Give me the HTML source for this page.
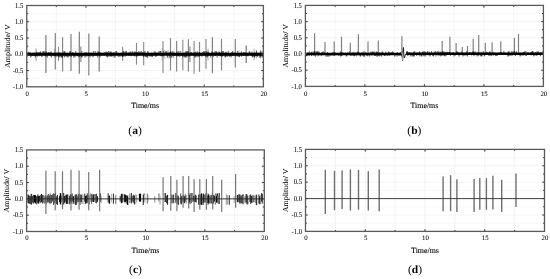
<!DOCTYPE html>
<html><head><meta charset="utf-8"><style>
html,body{margin:0;padding:0;background:#fff;}
body{width:550px;height:279px;overflow:hidden;}
svg{display:block;will-change:transform;}
text{font-family:"Liberation Serif", serif;fill:#000;stroke:#000;stroke-width:0.04px;}
.tm{stroke-width:0.1px;}
.cp{stroke-width:0;}
</style></head><body>
<svg width="550" height="279" viewBox="0 0 550 279">
<rect width="550" height="279" fill="#fff"/>
<path d="M56.33 5.5V86.8M85.91 5.5V86.8M115.49 5.5V86.8M145.07 5.5V86.8M174.66 5.5V86.8M204.24 5.5V86.8M233.82 5.5V86.8M26.75 21.76H263.4M26.75 38.02H263.4M26.75 54.28H263.4M26.75 70.54H263.4" stroke="#efefef" stroke-width="0.7" fill="none"/>
<path d="M26.75 13.63H263.4M26.75 29.89H263.4M26.75 46.15H263.4M26.75 62.41H263.4M26.75 78.67H263.4" stroke="#f5f5f5" stroke-width="0.7" fill="none"/>
<path d="M36.1 48.5V60.9" stroke="#999" stroke-width="1"/>
<path d="M45.9 35.1V72.9" stroke="#9a9a9a" stroke-width="1.6"/>
<path d="M54.4 48.7V58" stroke="#aaa" stroke-width="1"/>
<path d="M55.3 32.9V69.6" stroke="#808080" stroke-width="1.2"/>
<path d="M58.5 46.8V60.9" stroke="#888" stroke-width="1.1"/>
<path d="M62.6 37.3V71.5" stroke="#8a8a8a" stroke-width="1.2"/>
<path d="M71 34V70.9" stroke="#808080" stroke-width="1.2"/>
<path d="M79.3 31.8V73.8" stroke="#7a7a7a" stroke-width="1.2"/>
<path d="M80.7 46.5V62" stroke="#aaa" stroke-width="1.8"/>
<path d="M88.8 33.5V75.6" stroke="#8a8a8a" stroke-width="1.3"/>
<path d="M99.2 36.5V71.6" stroke="#7a7a7a" stroke-width="1.2"/>
<path d="M106.8 51V57" stroke="#aaa" stroke-width="1"/>
<path d="M122.6 46.8V60.9" stroke="#999" stroke-width="1.3"/>
<path d="M136.5 43V64.7" stroke="#888" stroke-width="1.1"/>
<path d="M143.6 42V65.3" stroke="#999" stroke-width="1.3"/>
<path d="M162.2 48.2V60.9" stroke="#aaa" stroke-width="1"/>
<path d="M163 41.1V72.9" stroke="#999" stroke-width="1.3"/>
<path d="M164.8 49.8V58.7" stroke="#aaa" stroke-width="1"/>
<path d="M168.1 49.8V58.7" stroke="#aaa" stroke-width="1"/>
<path d="M170.5 38V70.5" stroke="#888" stroke-width="1.2"/>
<path d="M176.6 41.1V71.6" stroke="#888" stroke-width="1.2"/>
<path d="M182.8 39.7V70.2" stroke="#999" stroke-width="1.3"/>
<path d="M188.4 39.2V71.6" stroke="#888" stroke-width="1.2"/>
<path d="M189.8 46.5V62" stroke="#aaa" stroke-width="1.8"/>
<path d="M194.1 40.9V73.8" stroke="#999" stroke-width="1.3"/>
<path d="M199.5 42V71.8" stroke="#888" stroke-width="1.2"/>
<path d="M206 39V68.8" stroke="#aaa" stroke-width="1.6"/>
<path d="M208 48.7V60.4" stroke="#aaa" stroke-width="1"/>
<path d="M212.4 37.3V73.2" stroke="#808080" stroke-width="1.2"/>
<path d="M221.5 38.9V70.2" stroke="#888" stroke-width="1.2"/>
<path d="M235.3 38.9V67.4" stroke="#888" stroke-width="1.2"/>
<path d="M238.8 50.4V57" stroke="#aaa" stroke-width="1"/>
<path d="M246.2 45.4V63.1" stroke="#777" stroke-width="1.2"/>
<path d="M254.1 48.7V60.4" stroke="#aaa" stroke-width="1"/>
<path d="M256.3 49.8V58.5" stroke="#aaa" stroke-width="1"/>
<path d="M260.6 50V58.5" stroke="#aaa" stroke-width="1"/>
<path d="M27.35 56.49L27.55 56.76L27.75 54.41L27.95 53L28.15 52.44L28.35 54.35L28.55 52.56L28.75 51.86L28.95 54.64L29.15 54.53L29.35 55.23L29.55 52.75L29.75 54.31L29.95 54.19L30.15 51.74L30.35 55.21L30.55 54.85L30.75 57.6L30.95 54.65L31.15 54.05L31.35 56.4L31.55 54.64L31.75 55.85L31.95 53.68L32.15 54.67L32.35 56.04L32.55 55.48L32.75 54.52L32.95 52.46L33.15 55.06L33.35 54.43L33.55 55.52L33.75 54.67L33.95 56.15L34.15 54.21L34.35 54.64L34.55 55.43L34.75 52.45L34.95 53.62L35.15 53.45L35.35 57.6L35.55 54.14L35.75 55.41L35.95 55.35L36.15 53.82L36.35 51.66L36.55 55.94L36.75 53.61L36.95 55.52L37.15 52.08L37.35 53.56L37.55 56.44L37.75 56.73L37.95 52.09L38.15 52.03L38.35 54.22L38.55 55.54L38.75 54.57L38.95 54.82L39.15 52.62L39.35 55.3L39.55 56.2L39.75 53.56L39.95 51.86L40.15 53.01L40.35 55.59L40.55 51.35L40.75 54.14L40.95 52.62L41.15 54.08L41.35 53.88L41.55 54.33L41.75 56.85L41.95 55.02L42.15 56.57L42.35 54.06L42.55 53.48L42.75 54.94L42.95 51L43.15 54.23L43.35 54.57L43.55 52.2L43.75 55.09L43.95 53.35L44.15 51L44.35 53.94L44.55 52.64L44.75 53.41L44.95 54.04L45.15 56.43L45.35 54.48L45.55 54.25L45.75 54.96L45.95 51.22L46.15 56.41L46.35 52.47L46.55 55.05L46.75 52.38L46.95 52.64L47.15 53.63L47.35 57.52L47.55 55.49L47.75 53.27L47.95 53.82L48.15 52.34L48.35 54.24L48.55 53.33L48.75 55.53L48.95 51.99L49.15 53.73L49.35 52.87L49.55 53.08L49.75 55.51L49.95 54.51L50.15 55.29L50.35 56.32L50.55 56.25L50.75 51.97L50.95 55.21L51.15 51.31L51.35 54.19L51.55 57.56L51.75 53.97L51.95 53.67L52.15 54.59L52.35 54.33L52.55 54.35L52.75 53.01L52.95 56.14L53.15 55.81L53.35 53.94L53.55 54.84L53.75 55.42L53.95 56.05L54.15 54.97L54.35 55.48L54.55 53.85L54.75 52.48L54.95 53.46L55.15 56.03L55.35 55.96L55.55 54.55L55.75 53.34L55.95 54.82L56.15 57.13L56.35 56.6L56.55 53.14L56.75 54.23L56.95 51.83L57.15 52.37L57.35 54.62L57.55 54.34L57.75 55.94L57.95 56.45L58.15 55.72L58.35 56.54L58.55 53.37L58.75 52.38L58.95 55.15L59.15 57.6L59.35 54.91L59.55 52.34L59.75 54.71L59.95 56.72L60.15 52.54L60.35 55.67L60.55 53.26L60.75 56.46L60.95 55.64L61.15 54.82L61.35 57.6L61.55 53.6L61.75 53.13L61.95 57.45L62.15 52.81L62.35 57.6L62.55 54.23L62.75 52.54L62.95 54.3L63.15 54.52L63.35 54.64L63.55 53.97L63.75 56.14L63.95 51L64.15 53.36L64.35 53.85L64.55 57.39L64.75 51L64.95 53.72L65.15 52.36L65.35 53.17L65.55 55.39L65.75 55L65.95 56.75L66.15 53.28L66.35 54.76L66.55 56.29L66.75 55.84L66.95 53.73L67.15 56.22L67.35 52.73L67.55 57.37L67.75 54.56L67.95 54.11L68.15 54.76L68.35 55.74L68.55 57.26L68.75 54.06L68.95 53.68L69.15 55.3L69.35 52.82L69.55 51.42L69.75 55.72L69.95 53.65L70.15 56.22L70.35 52.55L70.55 51L70.75 54.78L70.95 54.56L71.15 57.02L71.35 55.19L71.55 54.83L71.75 55.3L71.95 53.68L72.15 54.43L72.35 52L72.55 55.18L72.75 52.93L72.95 53.54L73.15 55.49L73.35 55.86L73.55 52.59L73.75 57.6L73.95 53.29L74.15 55.72L74.35 55.92L74.55 54.68L74.75 54.59L74.95 57.36L75.15 55.81L75.35 55.06L75.55 51.2L75.75 53.03L75.95 56.28L76.15 54.63L76.35 52.68L76.55 53.21L76.75 53.78L76.95 55.47L77.15 54.96L77.35 56L77.55 52.91L77.75 55.98L77.95 53.45L78.15 53.79L78.35 57.25L78.55 54.43L78.75 54.06L78.95 53.94L79.15 53.65L79.35 56.95L79.55 56.64L79.75 55.52L79.95 54.61L80.15 56.07L80.35 54.17L80.55 55.07L80.75 54.98L80.95 54.45L81.15 57.1L81.35 57.28L81.55 56.55L81.75 51.05L81.95 57.42L82.15 55.49L82.35 53.53L82.55 54.26L82.75 56.24L82.95 56.3L83.15 55.75L83.35 54.54L83.55 54.36L83.75 55.71L83.95 54.14L84.15 52.77L84.35 53.24L84.55 54.06L84.75 54.87L84.95 57.6L85.15 51.97L85.35 55.11L85.55 54.14L85.75 54.81L85.95 56.6L86.15 56.41L86.35 54.03L86.55 53.35L86.75 51.98L86.95 54.18L87.15 56.42L87.35 53.85L87.55 55.5L87.75 55.5L87.95 54.98L88.15 56.14L88.35 54.11L88.55 52.89L88.75 52.31L88.95 55.88L89.15 53.68L89.35 53.77L89.55 55.72L89.75 52.96L89.95 57.31L90.15 55.43L90.35 53.4L90.55 53.22L90.75 56.14L90.95 52.29L91.15 53.21L91.35 54.31L91.55 54.64L91.75 54.33L91.95 54.96L92.15 53.68L92.35 54.09L92.55 56.45L92.75 55.4L92.95 53.54L93.15 57.21L93.35 51L93.55 54.44L93.75 55.44L93.95 55.95L94.15 54.49L94.35 53.65L94.55 55.3L94.75 53.97L94.95 55.11L95.15 51L95.35 54.95L95.55 52.96L95.75 55.9L95.95 55.57L96.15 55.54L96.35 53.61L96.55 55.04L96.75 53.72L96.95 54.67L97.15 54.07L97.35 52.82L97.55 57.6L97.75 55.53L97.95 51L98.15 55.82L98.35 51.93L98.55 53.91L98.75 53.31L98.95 53.39L99.15 54.71L99.35 53.75L99.55 51.84L99.75 54.29L99.95 54.92L100.15 57.31L100.35 53.6L100.55 52.28L100.75 53.65L100.95 55.41L101.15 52.8L101.35 53.07L101.55 55.24L101.75 54.28L101.95 54.68L102.15 53.23L102.35 52.9L102.55 53.75L102.75 54.04L102.95 53.73L103.15 55.03L103.35 55.23L103.55 55.23L103.75 55.11L103.95 52.79L104.15 52.4L104.35 55.66L104.55 54.32L104.75 54.51L104.95 52.33L105.15 53.94L105.35 53.22L105.55 52.83L105.75 53.23L105.95 51.76L106.15 54.45L106.35 56.28L106.55 53.1L106.75 54.46L106.95 52.44L107.15 55.44L107.35 57.47L107.55 52.2L107.75 53.91L107.95 56.72L108.15 54.93L108.35 54.5L108.55 51L108.75 54.04L108.95 55.86L109.15 56.74L109.35 55.39L109.55 53.31L109.75 53.13L109.95 51.21L110.15 52.47L110.35 56.21L110.55 54.11L110.75 52.02L110.95 56.54L111.15 51.46L111.35 56.44L111.55 53.75L111.75 54.88L111.95 55.46L112.15 54.75L112.35 56.46L112.55 54.33L112.75 53.74L112.95 53.17L113.15 51.84L113.35 53.12L113.55 55.97L113.75 55.7L113.95 56.67L114.15 57.6L114.35 55.51L114.55 55.15L114.75 52.06L114.95 53.89L115.15 57.6L115.35 55.2L115.55 54.07L115.75 54.83L115.95 51.08L116.15 52.88L116.35 52.07L116.55 51L116.75 55.61L116.95 55.94L117.15 54L117.35 54.89L117.55 52.59L117.75 55.07L117.95 55.6L118.15 56.91L118.35 56.95L118.55 55.13L118.75 54.08L118.95 52.9L119.15 53.27L119.35 55.35L119.55 55.26L119.75 54.33L119.95 57.13L120.15 55.4L120.35 54.33L120.55 53.98L120.75 54.43L120.95 52.69L121.15 52.63L121.35 54.89L121.55 53.31L121.75 53.84L121.95 56.37L122.15 53.97L122.35 56.53L122.55 54.29L122.75 56.88L122.95 55.09L123.15 51.31L123.35 56.41L123.55 53.95L123.75 51L123.95 54.49L124.15 54.56L124.35 52.11L124.55 53.27L124.75 55.23L124.95 56.7L125.15 56.24L125.35 56.38L125.55 56.21L125.75 51L125.95 53.06L126.15 54.62L126.35 51L126.55 55.61L126.75 55.82L126.95 52.98L127.15 53.65L127.35 52.7L127.55 54.27L127.75 54.23L127.95 54.29L128.15 52.56L128.35 54.96L128.55 53.72L128.75 55.92L128.95 54.83L129.15 51.78L129.35 51.85L129.55 54.42L129.75 53.48L129.95 55.1L130.15 55.67L130.35 54.33L130.55 51.43L130.75 52.27L130.95 55.27L131.15 52.51L131.35 56.19L131.55 54.15L131.75 55.18L131.95 52.8L132.15 54.13L132.35 51L132.55 53.95L132.75 55.28L132.95 52.78L133.15 52.87L133.35 54.21L133.55 54.41L133.75 52.93L133.95 55.45L134.15 51.5L134.35 56.19L134.55 51.91L134.75 52.9L134.95 56.56L135.15 52.61L135.35 51.49L135.55 54.43L135.75 52.74L135.95 52.4L136.15 53.11L136.35 53.04L136.55 52.64L136.75 52.55L136.95 57.04L137.15 53.16L137.35 55.95L137.55 51.91L137.75 55.23L137.95 52.17L138.15 53.52L138.35 55.38L138.55 53.4L138.75 51L138.95 53.36L139.15 54.03L139.35 55.27L139.55 52.6L139.75 53.79L139.95 54.41L140.15 51.5L140.35 54.12L140.55 52.89L140.75 55.04L140.95 54.11L141.15 54.02L141.35 51L141.55 54.12L141.75 53.67L141.95 52.7L142.15 53.43L142.35 52.15L142.55 54.6L142.75 55.42L142.95 55.32L143.15 53.42L143.35 57.16L143.55 55.75L143.75 52.69L143.95 54.06L144.15 51.53L144.35 54.1L144.55 55.51L144.75 56.46L144.95 53.59L145.15 51.26L145.35 54.01L145.55 56.61L145.75 54.54L145.95 56.47L146.15 55.71L146.35 56.95L146.55 55.32L146.75 53.17L146.95 55.06L147.15 57.6L147.35 53.42L147.55 51.14L147.75 57.6L147.95 54.99L148.15 53.23L148.35 53.27L148.55 51.68L148.75 55.5L148.95 54.54L149.15 53.22L149.35 53.58L149.55 53.57L149.75 56.11L149.95 53.99L150.15 56.65L150.35 52.88L150.55 53.26L150.75 53.48L150.95 53.38L151.15 54.15L151.35 56.04L151.55 56.36L151.75 52.48L151.95 56.47L152.15 54.46L152.35 57L152.55 54.01L152.75 52.88L152.95 55.64L153.15 55.36L153.35 53.52L153.55 54.34L153.75 54.52L153.95 54.83L154.15 51.38L154.35 52.25L154.55 54.39L154.75 54.74L154.95 53.41L155.15 51.31L155.35 56.58L155.55 53.78L155.75 52.52L155.95 57.01L156.15 56.23L156.35 56.06L156.55 55.72L156.75 55.27L156.95 52.64L157.15 54.35L157.35 54.9L157.55 55.38L157.75 55.11L157.95 52.59L158.15 53.27L158.35 53.74L158.55 53.97L158.75 52.82L158.95 51.2L159.15 52.23L159.35 54.82L159.55 54.28L159.75 55.29L159.95 51.09L160.15 53.59L160.35 55.81L160.55 51L160.75 52.46L160.95 51.47L161.15 56.36L161.35 54.35L161.55 53.32L161.75 54.55L161.95 54.15L162.15 55.84L162.35 56.29L162.55 55.85L162.75 54.88L162.95 55.6L163.15 55.68L163.35 56.28L163.55 51.18L163.75 54.89L163.95 54.43L164.15 54.57L164.35 53.88L164.55 54.17L164.75 55.14L164.95 54.64L165.15 54.52L165.35 52.48L165.55 52.16L165.75 53.03L165.95 51.27L166.15 53.42L166.35 52.86L166.55 51.25L166.75 51L166.95 53.5L167.15 53.31L167.35 57.6L167.55 55.77L167.75 52.97L167.95 53.45L168.15 52.58L168.35 52.96L168.55 53.7L168.75 54.22L168.95 53.24L169.15 55.7L169.35 55.4L169.55 57.6L169.75 52.07L169.95 55.45L170.15 53.66L170.35 51.57L170.55 53.79L170.75 51.51L170.95 54.25L171.15 57.6L171.35 56.52L171.55 57.39L171.75 56.33L171.95 51.67L172.15 55L172.35 54.54L172.55 55.04L172.75 52.53L172.95 51L173.15 57.6L173.35 56.33L173.55 54.82L173.75 53.47L173.95 54.61L174.15 52.19L174.35 55.93L174.55 54.58L174.75 54.04L174.95 53.57L175.15 54.19L175.35 54.52L175.55 53.62L175.75 55.94L175.95 54.66L176.15 54.14L176.35 52.84L176.55 56.37L176.75 56.5L176.95 55.47L177.15 51.17L177.35 53.71L177.55 55.99L177.75 54.36L177.95 56.47L178.15 53.55L178.35 55.65L178.55 55.19L178.75 51L178.95 53.61L179.15 53.9L179.35 53.23L179.55 52.78L179.75 57L179.95 54.1L180.15 55.64L180.35 52.02L180.55 51L180.75 53.5L180.95 54.99L181.15 53.07L181.35 55.2L181.55 55.66L181.75 53.54L181.95 54.2L182.15 53.05L182.35 56.14L182.55 57.31L182.75 55.14L182.95 53.44L183.15 53.1L183.35 53.83L183.55 55.81L183.75 53.01L183.95 56.81L184.15 52.22L184.35 54.29L184.55 56.54L184.75 57.33L184.95 53.61L185.15 55.65L185.35 57.6L185.55 56.29L185.75 51L185.95 54.78L186.15 57.6L186.35 52.32L186.55 55.85L186.75 51L186.95 57L187.15 52.87L187.35 55.67L187.55 55.85L187.75 51L187.95 51.87L188.15 54.86L188.35 51.71L188.55 54.27L188.75 52.69L188.95 56.58L189.15 53.43L189.35 52.74L189.55 55.39L189.75 56.38L189.95 54.03L190.15 54.78L190.35 55.14L190.55 53.46L190.75 52.28L190.95 55.21L191.15 53.7L191.35 51.97L191.55 55.75L191.75 55.04L191.95 54.54L192.15 53.02L192.35 53.92L192.55 55.34L192.75 55.12L192.95 52.9L193.15 52.77L193.35 54.88L193.55 54.61L193.75 55.74L193.95 52.33L194.15 55.87L194.35 57.3L194.55 55.91L194.75 54.52L194.95 55.84L195.15 52.11L195.35 53.55L195.55 57.6L195.75 51.52L195.95 52.33L196.15 55.7L196.35 53.18L196.55 53.34L196.75 52.4L196.95 57.16L197.15 53.27L197.35 53.83L197.55 51.22L197.75 55.61L197.95 54.28L198.15 55.15L198.35 56.99L198.55 54.56L198.75 52.27L198.95 52.58L199.15 54.44L199.35 56.55L199.55 52.26L199.75 53.88L199.95 54.05L200.15 55.42L200.35 52.78L200.55 54.83L200.75 55.63L200.95 54.24L201.15 54.13L201.35 55.35L201.55 55.29L201.75 56.44L201.95 52.47L202.15 56.39L202.35 53.91L202.55 52.36L202.75 53.36L202.95 52.2L203.15 53.96L203.35 56.06L203.55 51L203.75 52.29L203.95 55.61L204.15 53.79L204.35 55.65L204.55 52.04L204.75 54.21L204.95 51L205.15 52.86L205.35 55.56L205.55 56.37L205.75 57.07L205.95 54.2L206.15 52.81L206.35 53.64L206.55 51.04L206.75 56.6L206.95 56.3L207.15 52.75L207.35 57.41L207.55 52L207.75 55.25L207.95 52.93L208.15 51.34L208.35 54.97L208.55 52.33L208.75 56.33L208.95 52.77L209.15 54.48L209.35 53.49L209.55 54.53L209.75 53.23L209.95 55.69L210.15 55.34L210.35 54.42L210.55 54.08L210.75 57.6L210.95 53.12L211.15 53.55L211.35 55.61L211.55 54.28L211.75 51.52L211.95 54.06L212.15 53.65L212.35 52.61L212.55 54.63L212.75 52.37L212.95 53.87L213.15 52.37L213.35 56.95L213.55 53.82L213.75 55.05L213.95 54.79L214.15 55.5L214.35 54.04L214.55 55.58L214.75 54.51L214.95 51L215.15 54.83L215.35 52.1L215.55 55.91L215.75 54.67L215.95 53.67L216.15 51L216.35 51L216.55 52.3L216.75 53.66L216.95 51.95L217.15 57.6L217.35 55.08L217.55 54.15L217.75 52.62L217.95 53.72L218.15 53.9L218.35 53.55L218.55 54.17L218.75 55.67L218.95 51.31L219.15 54.68L219.35 56.17L219.55 51.97L219.75 53.98L219.95 53.65L220.15 52.36L220.35 55.91L220.55 53.74L220.75 56.25L220.95 55L221.15 53.83L221.35 54.79L221.55 53.66L221.75 51.51L221.95 56.72L222.15 54.92L222.35 56.27L222.55 51.22L222.75 56.08L222.95 55.7L223.15 54.23L223.35 51L223.55 54.47L223.75 53.16L223.95 53.97L224.15 54.39L224.35 52.76L224.55 54.08L224.75 54.32L224.95 56.78L225.15 54.13L225.35 57.6L225.55 52.29L225.75 54.07L225.95 56.41L226.15 51.63L226.35 55.35L226.55 54.97L226.75 53.28L226.95 53.89L227.15 56.93L227.35 53.54L227.55 54.77L227.75 55.03L227.95 56.35L228.15 51L228.35 51.8L228.55 52.02L228.75 53.82L228.95 55.34L229.15 55.71L229.35 53.81L229.55 56.88L229.75 54.17L229.95 55.47L230.15 53.01L230.35 55.72L230.55 53.08L230.75 56.27L230.95 55.77L231.15 57.48L231.35 53.58L231.55 52.32L231.75 55.71L231.95 54.84L232.15 53.4L232.35 52.02L232.55 55.66L232.75 51L232.95 53.51L233.15 56.12L233.35 53.87L233.55 55.08L233.75 55.13L233.95 55.31L234.15 56.1L234.35 55.41L234.55 53.66L234.75 52.21L234.95 53.81L235.15 53.18L235.35 54.99L235.55 56.39L235.75 55.63L235.95 53.12L236.15 54.64L236.35 54.31L236.55 53.5L236.75 56.51L236.95 55.35L237.15 54.91L237.35 52.22L237.55 51L237.75 53.05L237.95 56.24L238.15 53.93L238.35 54.26L238.55 53.85L238.75 55.12L238.95 54.28L239.15 57.21L239.35 54.09L239.55 53.85L239.75 56.71L239.95 55.58L240.15 55.48L240.35 55.2L240.55 54.23L240.75 54.84L240.95 55.21L241.15 54.48L241.35 51.11L241.55 56.64L241.75 53.48L241.95 53.33L242.15 53.72L242.35 53.07L242.55 52.81L242.75 54.16L242.95 55.8L243.15 53.8L243.35 55.1L243.55 52L243.75 55.58L243.95 52.37L244.15 55.49L244.35 53.04L244.55 53.28L244.75 52.16L244.95 52.14L245.15 53.92L245.35 52.64L245.55 53.92L245.75 56.23L245.95 52.87L246.15 53.76L246.35 54.13L246.55 53.25L246.75 54.24L246.95 54.7L247.15 56.07L247.35 53.06L247.55 53.93L247.75 54.03L247.95 56.37L248.15 52.6L248.35 54.59L248.55 55.61L248.75 55.3L248.95 53.1L249.15 52.54L249.35 51.15L249.55 53.39L249.75 53.87L249.95 51.75L250.15 55.73L250.35 54.58L250.55 53.89L250.75 53.4L250.95 55.1L251.15 53.81L251.35 55.16L251.55 53.48L251.75 56.1L251.95 51.53L252.15 52.48L252.35 57.36L252.55 56.08L252.75 57.09L252.95 52.95L253.15 55.54L253.35 56L253.55 55.85L253.75 53.99L253.95 56.8L254.15 55.01L254.35 52.1L254.55 57.6L254.75 54.52L254.95 56.44L255.15 53.12L255.35 52.71L255.55 55.8L255.75 55.7L255.95 53.03L256.15 54.72L256.35 52.04L256.55 51L256.75 56.16L256.95 52.35L257.15 55.56L257.35 56.11L257.55 54.93L257.75 56.88L257.95 54.92L258.15 54.8L258.35 54.3L258.55 55.01L258.75 54.9L258.95 52.71L259.15 54.22L259.35 53.66L259.55 57.6L259.75 56.39L259.95 52.96L260.15 55.31L260.35 51.32L260.55 54.39L260.75 57.39L260.95 54.44L261.15 56.48L261.35 53.67L261.55 55.08L261.75 54.94L261.95 51L262.15 52.94L262.35 57.52L262.55 52.88L262.75 56.35" stroke="#000" stroke-width="0.35" fill="none"/>
<path d="M26.75 54.3H263.4" stroke="#000" stroke-width="2.9"/>
<path d="M56.33 5.5v1.4M56.33 86.8v-1.4M85.91 5.5v2.2M85.91 86.8v-2.2M115.49 5.5v1.4M115.49 86.8v-1.4M145.07 5.5v2.2M145.07 86.8v-2.2M174.66 5.5v1.4M174.66 86.8v-1.4M204.24 5.5v2.2M204.24 86.8v-2.2M233.82 5.5v1.4M233.82 86.8v-1.4M26.75 13.63h1.4M263.4 13.63h-1.4M26.75 21.76h2.2M263.4 21.76h-2.2M26.75 29.89h1.4M263.4 29.89h-1.4M26.75 38.02h2.2M263.4 38.02h-2.2M26.75 46.15h1.4M263.4 46.15h-1.4M26.75 54.28h2.2M263.4 54.28h-2.2M26.75 62.41h1.4M263.4 62.41h-1.4M26.75 70.54h2.2M263.4 70.54h-2.2M26.75 78.67h1.4M263.4 78.67h-1.4" stroke="#333" stroke-width="1" fill="none"/>
<rect x="26.75" y="5.5" width="236.65" height="81.3" fill="none" stroke="#5a5a5a" stroke-width="1.3"/>
<text transform="translate(23.25 7.7) scale(1.02 1.15) skewX(0.05)" text-anchor="end" font-size="6.5">1.5</text>
<text transform="translate(23.25 23.96) scale(1.02 1.15) skewX(0.05)" text-anchor="end" font-size="6.5">1.0</text>
<text transform="translate(23.25 40.22) scale(1.02 1.15) skewX(0.05)" text-anchor="end" font-size="6.5">0.5</text>
<text transform="translate(23.25 56.48) scale(1.02 1.15) skewX(0.05)" text-anchor="end" font-size="6.5">0.0</text>
<text transform="translate(23.25 72.74) scale(1.02 1.15) skewX(0.05)" text-anchor="end" font-size="6.5">-0.5</text>
<text transform="translate(23.25 89) scale(1.02 1.15) skewX(0.05)" text-anchor="end" font-size="6.5">-1.0</text>
<text transform="translate(27.15 96) scale(1.02 1.0) skewX(0.05)" text-anchor="middle" font-size="6.7">0</text>
<text transform="translate(86.31 96) scale(1.02 1.0) skewX(0.05)" text-anchor="middle" font-size="6.7">5</text>
<text transform="translate(145.47 96) scale(1.02 1.0) skewX(0.05)" text-anchor="middle" font-size="6.7">10</text>
<text transform="translate(204.64 96) scale(1.02 1.0) skewX(0.05)" text-anchor="middle" font-size="6.7">15</text>
<text transform="translate(263.8 96) scale(1.02 1.0) skewX(0.05)" text-anchor="middle" font-size="6.7">20</text>
<text transform="translate(145.07 107.9) scale(1.04 1.04) skewX(0.05)" text-anchor="middle" font-size="7.6" class="tm">Time/ms</text>
<text transform="translate(9.55 46.15) rotate(-90) scale(0.99 0.95) skewX(0.05)" text-anchor="middle" font-size="8.0">Amplitude/ V</text>
<text transform="translate(135.07 133.5) scale(1.03 1.0) skewX(0.05)" text-anchor="middle" font-size="11.2" class="cp">(<tspan font-weight="bold">a</tspan>)</text>
<path d="M335.15 5.4V86.4M364.9 5.4V86.4M394.65 5.4V86.4M424.4 5.4V86.4M454.15 5.4V86.4M483.9 5.4V86.4M513.65 5.4V86.4M305.4 21.6H543.4M305.4 37.8H543.4M305.4 54H543.4M305.4 70.2H543.4" stroke="#efefef" stroke-width="0.7" fill="none"/>
<path d="M305.4 13.5H543.4M305.4 29.7H543.4M305.4 45.9H543.4M305.4 62.1H543.4M305.4 78.3H543.4" stroke="#f5f5f5" stroke-width="0.7" fill="none"/>
<path d="M314.6 33.2V54" stroke="#808080" stroke-width="1.2"/>
<path d="M325 42V54" stroke="#808080" stroke-width="1.2"/>
<path d="M334.2 41.6V54" stroke="#808080" stroke-width="1.2"/>
<path d="M341.5 36.7V54" stroke="#808080" stroke-width="1.2"/>
<path d="M350.3 42.7V54" stroke="#808080" stroke-width="1.2"/>
<path d="M358.4 34.3V54" stroke="#808080" stroke-width="1.2"/>
<path d="M368 41.6V54" stroke="#808080" stroke-width="1.2"/>
<path d="M378.3 40.5V54" stroke="#808080" stroke-width="1.2"/>
<path d="M401.9 36.2V54" stroke="#808080" stroke-width="1.2"/>
<path d="M442.2 40.9V54" stroke="#808080" stroke-width="1.2"/>
<path d="M449.9 36.7V54" stroke="#808080" stroke-width="1.2"/>
<path d="M456.1 43V54" stroke="#808080" stroke-width="1.2"/>
<path d="M462.3 47.1V54" stroke="#808080" stroke-width="1.2"/>
<path d="M467.5 46V54" stroke="#808080" stroke-width="1.2"/>
<path d="M473.2 38.7V54" stroke="#808080" stroke-width="1.2"/>
<path d="M478.7 35.1V54" stroke="#808080" stroke-width="1.2"/>
<path d="M485.3 42.7V54" stroke="#808080" stroke-width="1.2"/>
<path d="M492.1 42.2V54" stroke="#808080" stroke-width="1.2"/>
<path d="M500.8 41.3V54" stroke="#808080" stroke-width="1.2"/>
<path d="M514.4 37.8V54" stroke="#808080" stroke-width="1.2"/>
<path d="M518.5 34V54" stroke="#808080" stroke-width="1.2"/>
<path d="M306 56.6L306.22 53.07L306.44 54.55L306.66 54.21L306.88 55.17L307.1 52.04L307.32 53.42L307.54 52.95L307.76 52.5L307.98 52.82L308.2 53.28L308.42 53.6L308.64 52.73L308.86 54.59L309.08 53.23L309.3 51.4L309.52 55.67L309.74 53.45L309.96 52.96L310.18 54.38L310.4 54.32L310.62 54.07L310.84 52.8L311.06 54.27L311.28 51.85L311.5 56.02L311.72 52.23L311.94 53.71L312.16 54.03L312.38 54.31L312.6 53.65L312.82 54.68L313.04 51.4L313.26 53.67L313.48 53.59L313.7 53.21L313.92 55.96L314.14 52.45L314.36 53.7L314.58 51.4L314.8 54.2L315.02 51.54L315.24 51.61L315.46 56.6L315.68 54.81L315.9 53.8L316.12 54.06L316.34 51.78L316.56 52.33L316.78 54.41L317 51.4L317.22 54.2L317.44 51.4L317.66 53.99L317.88 52.24L318.1 56.3L318.32 55.26L318.54 53.08L318.76 51.4L318.98 52.7L319.2 53.73L319.42 52.41L319.64 54.22L319.86 55.22L320.08 53.74L320.3 53.2L320.52 54.93L320.74 53.4L320.96 55.02L321.18 53.36L321.4 56.11L321.62 53.42L321.84 52.31L322.06 53.95L322.28 52.92L322.5 52.48L322.72 53.64L322.94 54.88L323.16 51.4L323.38 53.76L323.6 53.6L323.82 53.61L324.04 54.96L324.26 51.96L324.48 54.76L324.7 53.5L324.92 53.98L325.14 53.51L325.36 53.36L325.58 53.08L325.8 54.42L326.02 56.6L326.24 55.34L326.46 55.05L326.68 54.64L326.9 53.17L327.12 54.71L327.34 56.6L327.56 52.03L327.78 55.04L328 55.3L328.22 54.26L328.44 54.99L328.66 55.85L328.88 56.6L329.1 55.73L329.32 56.24L329.54 54.36L329.76 55.07L329.98 54.14L330.2 54.32L330.42 53.25L330.64 54.87L330.86 55.96L331.08 53.69L331.3 54.27L331.52 54.8L331.74 53.95L331.96 55.25L332.18 54.29L332.4 52.27L332.62 52.47L332.84 54.96L333.06 54.83L333.28 55.5L333.5 54.29L333.72 54.23L333.94 51.71L334.16 55.92L334.38 52.64L334.6 55.42L334.82 52.34L335.04 53.01L335.26 54.17L335.48 53.35L335.7 52.97L335.92 55.22L336.14 54.91L336.36 54.52L336.58 53.48L336.8 52.8L337.02 53.29L337.24 53.22L337.46 53.93L337.68 55.05L337.9 53.73L338.12 52.85L338.34 53.1L338.56 55.78L338.78 54.2L339 54.3L339.22 54.37L339.44 54.81L339.66 54.17L339.88 55.64L340.1 55.13L340.32 51.4L340.54 53.79L340.76 56.6L340.98 52.18L341.2 54.17L341.42 55.51L341.64 53.99L341.86 55.87L342.08 52.21L342.3 52.23L342.52 53.73L342.74 52.96L342.96 52.49L343.18 54.8L343.4 54.38L343.62 54.01L343.84 53.43L344.06 54.37L344.28 53.83L344.5 52.97L344.72 54.72L344.94 54.52L345.16 54.11L345.38 54.97L345.6 52.45L345.82 53.8L346.04 53.26L346.26 55.87L346.48 54.71L346.7 56.6L346.92 56.2L347.14 53.48L347.36 52.47L347.58 54.68L347.8 53.6L348.02 53.78L348.24 52.51L348.46 54.84L348.68 54.26L348.9 54.56L349.12 54.43L349.34 52.74L349.56 51.4L349.78 53.62L350 53.11L350.22 53.26L350.44 55.34L350.66 53.86L350.88 56.11L351.1 54.25L351.32 54.96L351.54 54.71L351.76 55.13L351.98 52.24L352.2 55.53L352.42 54.15L352.64 52.63L352.86 54.86L353.08 54.48L353.3 55.8L353.52 55.02L353.74 54.51L353.96 51.71L354.18 56.35L354.4 56.08L354.62 55.09L354.84 54.65L355.06 55.7L355.28 52.79L355.5 54.98L355.72 54.03L355.94 52.6L356.16 54.51L356.38 54.49L356.6 56.39L356.82 55.32L357.04 51.76L357.26 51.4L357.48 53.89L357.7 53.71L357.92 52.69L358.14 51.96L358.36 53.73L358.58 52.38L358.8 53.03L359.02 55.21L359.24 54.33L359.46 52.94L359.68 52.43L359.9 53.74L360.12 56.43L360.34 53.29L360.56 56.42L360.78 52.9L361 53.71L361.22 54.97L361.44 52.92L361.66 54.08L361.88 52.1L362.1 54.93L362.32 55.62L362.54 53.09L362.76 54.26L362.98 53.43L363.2 51.4L363.42 56.6L363.64 54.88L363.86 55.16L364.08 54.54L364.3 54.24L364.52 56.6L364.74 51.44L364.96 53.56L365.18 53.41L365.4 53.71L365.62 54.97L365.84 52.99L366.06 52.14L366.28 52.42L366.5 54.64L366.72 55.33L366.94 55.13L367.16 56.24L367.38 53.27L367.6 55.39L367.82 54.96L368.04 53.77L368.26 52.95L368.48 55.23L368.7 53.05L368.92 53.59L369.14 52.64L369.36 56.45L369.58 53.93L369.8 53.3L370.02 53.65L370.24 53.68L370.46 54.12L370.68 51.61L370.9 52.37L371.12 54.71L371.34 55.52L371.56 52.58L371.78 54.16L372 53.19L372.22 51.4L372.44 53.56L372.66 52.48L372.88 55.22L373.1 53.7L373.32 53.94L373.54 51.95L373.76 54.2L373.98 51.4L374.2 54.31L374.42 55.93L374.64 52.3L374.86 55.19L375.08 55.97L375.3 53.72L375.52 55.56L375.74 54.11L375.96 53.31L376.18 51.4L376.4 52.49L376.62 51.91L376.84 56.6L377.06 54.36L377.28 53.75L377.5 52.1L377.72 56.41L377.94 52.37L378.16 56.08L378.38 55.52L378.6 54.1L378.82 53.07L379.04 53.93L379.26 52.14L379.48 54.91L379.7 56.36L379.92 55.25L380.14 55.47L380.36 53.02L380.58 54.43L380.8 52.56L381.02 53.37L381.24 55.02L381.46 56.6L381.68 54.1L381.9 54.05L382.12 51.4L382.34 54.24L382.56 52.72L382.78 52.03L383 51.91L383.22 54.2L383.44 53.44L383.66 54.95L383.88 53.67L384.1 53.99L384.32 56.06L384.54 55.13L384.76 55.08L384.98 56.07L385.2 54.31L385.42 52.61L385.64 52.88L385.86 51.8L386.08 54.49L386.3 53.43L386.52 54.72L386.74 55.17L386.96 52.86L387.18 54.26L387.4 55.78L387.62 54.12L387.84 55.31L388.06 53.72L388.28 52.66L388.5 53.67L388.72 51.4L388.94 55L389.16 53.27L389.38 55.89L389.6 52.27L389.82 54.18L390.04 54.48L390.26 53.71L390.48 54.54L390.7 52.94L390.92 52.49L391.14 52.02L391.36 53.2L391.58 52.85L391.8 54.33L392.02 53.48L392.24 53.07L392.46 52.96L392.68 51.4L392.9 53.48L393.12 54.58L393.34 52.12L393.56 53.64L393.78 54.95L394 53.02L394.22 54.27L394.44 53.39L394.66 56.6L394.88 55.97L395.1 55.67L395.32 53.03L395.54 54.92L395.76 53.77L395.98 54.51L396.2 53.19L396.42 54.22L396.64 52.91L396.86 54.41L397.08 56.49L397.3 52.06L397.52 52.13L397.74 54.71L397.96 55.12L398.18 53.47L398.4 54.84L398.62 54.6L398.84 54.78L399.06 55.96L399.28 53.08L399.5 54.94L399.72 54.29L399.94 53.02L400.16 54.71L400.38 52.15L400.6 51.89L400.82 55.53L401.04 52.43" stroke="#000" stroke-width="0.4" fill="none"/>
<path d="M406.2 52.15L406.42 52.19L406.64 54.74L406.86 51.2L407.08 53.6L407.3 51.2L407.52 55.34L407.74 54.08L407.96 55.7L408.18 53.09L408.4 54.36L408.62 53.4L408.84 52.77L409.06 54L409.28 52.04L409.5 53.3L409.72 54.78L409.94 53.88L410.16 53.23L410.38 56.4L410.6 53.88L410.82 52.98L411.04 54.02L411.26 53.07L411.48 53.26L411.7 53.31L411.92 56.4L412.14 53.83L412.36 54.05L412.58 54.74L412.8 56.4L413.02 53.49L413.24 52.93L413.46 56.4L413.68 51.76L413.9 53.29L414.12 54.73L414.34 56.4L414.56 52.47L414.78 51.2L415 54.73L415.22 53.07L415.44 53.26L415.66 54.45L415.88 54.11L416.1 54.21L416.32 53.2L416.54 55.61L416.76 55.91L416.98 53.84L417.2 53.17L417.42 54.83L417.64 54.47L417.86 52.34L418.08 53.16L418.3 55.27L418.52 53.67L418.74 53.34L418.96 54.1L419.18 53.75L419.4 53.8L419.62 51.2L419.84 56.25L420.06 54.08L420.28 52.57L420.5 55.17L420.72 54.23L420.94 53.82L421.16 55.27L421.38 56.4L421.6 54.58L421.82 56.02L422.04 56.4L422.26 52.37L422.48 53.07L422.7 54.89L422.92 51.41L423.14 53.43L423.36 55.61L423.58 55.26L423.8 54.61L424.02 51.2L424.24 56.4L424.46 54.57L424.68 54.87L424.9 54.49L425.12 51.4L425.34 51.79L425.56 52.1L425.78 56.4L426 52.64L426.22 53.46L426.44 53.44L426.66 54.6L426.88 54.5L427.1 54.18L427.32 52.03L427.54 51.2L427.76 54.03L427.98 54.18L428.2 55.52L428.42 53.66L428.64 52.94L428.86 54.37L429.08 51.62L429.3 52.34L429.52 52.39L429.74 54.2L429.96 56.4L430.18 54.87L430.4 55.4L430.62 54.13L430.84 54.19L431.06 53.17L431.28 53.41L431.5 51.2L431.72 52.12L431.94 52L432.16 54.97L432.38 54.73L432.6 55.4L432.82 55.98L433.04 53.37L433.26 55.28L433.48 56.4L433.7 53.79L433.92 55.32L434.14 53.57L434.36 51.54L434.58 53.97L434.8 52.65L435.02 53.95L435.24 53.15L435.46 54.25L435.68 51.2L435.9 56.4L436.12 55.7L436.34 53.31L436.56 52.53L436.78 53.81L437 54.75L437.22 54.39L437.44 54.36L437.66 51.2L437.88 52.22L438.1 55.68L438.32 54.14L438.54 51.67L438.76 52.58L438.98 51.77L439.2 52.37L439.42 55.45L439.64 53.49L439.86 55.38L440.08 54.07L440.3 51.67L440.52 52.88L440.74 56.4L440.96 52.71L441.18 52.31L441.4 55.56L441.62 53.93L441.84 53.79L442.06 55.89L442.28 51.29L442.5 54.4L442.72 52.3L442.94 51.8L443.16 52.64L443.38 55.44L443.6 53.6L443.82 51.2L444.04 52.22L444.26 55.98L444.48 55.26L444.7 52.24L444.92 56.4L445.14 53.28L445.36 52.09L445.58 53.6L445.8 55.14L446.02 56.1L446.24 55.27L446.46 53.19L446.68 53L446.9 51.72L447.12 53.69L447.34 52.95L447.56 54.15L447.78 51.99L448 53.06L448.22 52.54L448.44 52.08L448.66 52.1L448.88 52.34L449.1 52.11L449.32 54.61L449.54 53.94L449.76 51.91L449.98 54.53L450.2 54.21L450.42 55.89L450.64 53.52L450.86 53.5L451.08 52.81L451.3 53.98L451.52 54.51L451.74 54.05L451.96 53.44L452.18 54.61L452.4 53.93L452.62 54.15L452.84 52.46L453.06 54.1L453.28 52.37L453.5 52.59L453.72 54.03L453.94 56.4L454.16 55.23L454.38 53.81L454.6 53.54L454.82 55.22L455.04 55.78L455.26 55.55L455.48 53.53L455.7 54.07L455.92 53.33L456.14 53.39L456.36 52.58L456.58 53.44L456.8 51.2L457.02 52.08L457.24 54.41L457.46 52.47L457.68 54.57L457.9 51.95L458.12 53.27L458.34 54.37L458.56 52.31L458.78 52.78L459 56.4L459.22 52.82L459.44 52.79L459.66 52.98L459.88 53.85L460.1 53.76L460.32 55.21L460.54 54.93L460.76 53.22L460.98 53.29L461.2 51.77L461.42 51.66L461.64 52.74L461.86 54.85L462.08 53.97L462.3 54.95L462.52 55.15L462.74 53.56L462.96 56.4L463.18 53.05L463.4 52.9L463.62 53.19L463.84 55.43L464.06 53.6L464.28 52.74L464.5 54.42L464.72 55.42L464.94 53.64L465.16 53.44L465.38 55.35L465.6 55.21L465.82 55.15L466.04 52.71L466.26 54.21L466.48 54.32L466.7 51.23L466.92 55.52L467.14 53.94L467.36 53.31L467.58 56.4L467.8 54.01L468.02 52.77L468.24 53.71L468.46 54.61L468.68 54.96L468.9 53.72L469.12 52.56L469.34 52.8L469.56 52.63L469.78 52.3L470 53.77L470.22 53.1L470.44 53.88L470.66 52.62L470.88 52.56L471.1 53.54L471.32 53.3L471.54 55.45L471.76 52.51L471.98 54.09L472.2 53.74L472.42 51.93L472.64 54.84L472.86 54.04L473.08 51.2L473.3 54.66L473.52 55.14L473.74 52.66L473.96 56.22L474.18 54.02L474.4 52.15L474.62 54.6L474.84 53.29L475.06 51.89L475.28 51.2L475.5 54.15L475.72 52.75L475.94 54.72L476.16 54.35L476.38 53.06L476.6 53.04L476.82 56.32L477.04 56.24L477.26 54.87L477.48 53.29L477.7 52.4L477.92 53.25L478.14 56.18L478.36 54.46L478.58 53.39L478.8 52.05L479.02 54.04L479.24 52.55L479.46 53.82L479.68 54.86L479.9 55.33L480.12 54L480.34 53.31L480.56 54.12L480.78 56.37L481 54.34L481.22 51.8L481.44 56.01L481.66 54.16L481.88 56.4L482.1 53.13L482.32 53.67L482.54 53.38L482.76 54.34L482.98 52.98L483.2 51.7L483.42 51.2L483.64 53.62L483.86 53.07L484.08 52.97L484.3 56.4L484.52 54.93L484.74 55.35L484.96 53.09L485.18 54.23L485.4 53.5L485.62 53.51L485.84 54.86L486.06 54.66L486.28 54.23L486.5 54.01L486.72 51.75L486.94 52.75L487.16 54.34L487.38 53.28L487.6 52.69L487.82 54.31L488.04 52.49L488.26 52.84L488.48 55.06L488.7 53.29L488.92 55.83L489.14 54.54L489.36 54.95L489.58 55.41L489.8 51.2L490.02 53.69L490.24 51.96L490.46 53.14L490.68 53.65L490.9 55.57L491.12 53.74L491.34 56.13L491.56 53.05L491.78 53.72L492 53.93L492.22 55.14L492.44 53.73L492.66 52.92L492.88 53.33L493.1 51.81L493.32 55.59L493.54 54.86L493.76 54.41L493.98 54.19L494.2 52.94L494.42 53.22L494.64 54.95L494.86 52.68L495.08 52.69L495.3 56.04L495.52 56.01L495.74 54.21L495.96 54.56L496.18 54.06L496.4 55.82L496.62 53.17L496.84 53.92L497.06 54.49L497.28 55.84L497.5 53.45L497.72 54.13L497.94 53.11L498.16 52.87L498.38 52.88L498.6 53.92L498.82 55.05L499.04 52.82L499.26 52.95L499.48 53.23L499.7 54.3L499.92 54.79L500.14 52.03L500.36 54.3L500.58 52.39L500.8 54.81L501.02 52.44L501.24 52.27L501.46 52.8L501.68 53.71L501.9 52.4L502.12 54.1L502.34 54.01L502.56 53.92L502.78 54.18L503 55.03L503.22 52.77L503.44 53.8L503.66 53.76L503.88 51.2L504.1 54.35L504.32 52.72L504.54 52.79L504.76 53.17L504.98 53.94L505.2 54.26L505.42 54.48L505.64 52.83L505.86 54.78L506.08 54.39L506.3 53.25L506.52 53.77L506.74 54.93L506.96 54.41L507.18 54.78L507.4 53.95L507.62 55.4L507.84 56.4L508.06 54.44L508.28 51.56L508.5 56.22L508.72 53L508.94 51.86L509.16 51.2L509.38 54.4L509.6 55.34L509.82 55.2L510.04 53.26L510.26 55.83L510.48 53.69L510.7 52.97L510.92 53.9L511.14 54.1L511.36 53.87L511.58 54.36L511.8 51.2L512.02 56L512.24 53L512.46 54.71L512.68 52.68L512.9 54.03L513.12 53.55L513.34 51.59L513.56 54.34L513.78 54.69L514 52.24L514.22 51.2L514.44 52.9L514.66 52.62L514.88 53.96L515.1 53.78L515.32 56.06L515.54 54.71L515.76 53.44L515.98 54.03L516.2 51.2L516.42 52.53L516.64 52.51L516.86 53.65L517.08 54.25L517.3 54.1L517.52 55.11L517.74 52.83L517.96 54.23L518.18 53.62L518.4 53.82L518.62 54.25L518.84 53.41L519.06 54.1L519.28 53.75L519.5 55.23L519.72 53.64L519.94 54.23L520.16 56.4L520.38 54.67L520.6 54.52L520.82 55.31L521.04 52.39L521.26 54.79L521.48 54.85L521.7 54.41L521.92 55.16L522.14 54.9L522.36 55.46L522.58 52.9L522.8 54.4L523.02 53.04L523.24 55.53L523.46 53.99L523.68 51.98L523.9 53.95L524.12 52.4L524.34 55.17L524.56 53.33L524.78 51.2L525 53.26L525.22 55.23L525.44 54.26L525.66 52.92L525.88 54.7L526.1 54.6L526.32 55.85L526.54 55.06L526.76 54.31L526.98 52.7L527.2 54.2L527.42 54.22L527.64 53.82L527.86 54.39L528.08 52.15L528.3 54.6L528.52 53.81L528.74 54.3L528.96 53.67L529.18 53.38L529.4 54.16L529.62 54.89L529.84 53.35L530.06 54.25L530.28 52.73L530.5 54.38L530.72 53.83L530.94 52.02L531.16 55.42L531.38 52.56L531.6 53.91L531.82 51.97L532.04 51.39L532.26 54.72L532.48 51.85L532.7 51.2L532.92 53.5L533.14 51.64L533.36 53.52L533.58 56.34L533.8 53.25L534.02 54.3L534.24 54.58L534.46 54.14L534.68 53.63L534.9 55.9L535.12 53.69L535.34 54.29L535.56 53.95L535.78 52.02L536 54.24L536.22 53.88L536.44 54.7L536.66 54.76L536.88 55.98L537.1 51.2L537.32 53.03L537.54 53.14L537.76 52.6L537.98 54.37L538.2 53.69L538.42 53.99L538.64 51.54L538.86 52.47L539.08 53.71L539.3 53.18L539.52 52.96L539.74 53.64L539.96 53.42L540.18 52.33L540.4 56.11L540.62 52.86L540.84 54.7L541.06 54.63L541.28 55.14L541.5 53.01L541.72 52.42L541.94 54.41L542.16 54.16L542.38 51.2L542.6 51.2" stroke="#000" stroke-width="0.4" fill="none"/>
<path d="M305.4 54.9L309 54.0H401.2M406.2 53.8H543.4" stroke="#000" stroke-width="2.5" fill="none"/>
<path d="M401.2 54.0L402.2 57L402.6 60.5L403.1 49L403.5 47.5L403.9 56L404.4 58L405.3 55L406.2 53.5" stroke="#222" stroke-width="1" fill="none"/>
<path d="M402.6 53V60.5" stroke="#999" stroke-width="1.2"/>
<path d="M525.9 51V56" stroke="#444" stroke-width="0.8"/>
<path d="M335.15 5.4v1.4M335.15 86.4v-1.4M364.9 5.4v2.2M364.9 86.4v-2.2M394.65 5.4v1.4M394.65 86.4v-1.4M424.4 5.4v2.2M424.4 86.4v-2.2M454.15 5.4v1.4M454.15 86.4v-1.4M483.9 5.4v2.2M483.9 86.4v-2.2M513.65 5.4v1.4M513.65 86.4v-1.4M305.4 13.5h1.4M543.4 13.5h-1.4M305.4 21.6h2.2M543.4 21.6h-2.2M305.4 29.7h1.4M543.4 29.7h-1.4M305.4 37.8h2.2M543.4 37.8h-2.2M305.4 45.9h1.4M543.4 45.9h-1.4M305.4 54h2.2M543.4 54h-2.2M305.4 62.1h1.4M543.4 62.1h-1.4M305.4 70.2h2.2M543.4 70.2h-2.2M305.4 78.3h1.4M543.4 78.3h-1.4" stroke="#333" stroke-width="1" fill="none"/>
<rect x="305.4" y="5.4" width="238" height="81" fill="none" stroke="#5a5a5a" stroke-width="1.3"/>
<text transform="translate(301.9 7.6) scale(1.02 1.15) skewX(0.05)" text-anchor="end" font-size="6.5">1.5</text>
<text transform="translate(301.9 23.8) scale(1.02 1.15) skewX(0.05)" text-anchor="end" font-size="6.5">1.0</text>
<text transform="translate(301.9 40) scale(1.02 1.15) skewX(0.05)" text-anchor="end" font-size="6.5">0.5</text>
<text transform="translate(301.9 56.2) scale(1.02 1.15) skewX(0.05)" text-anchor="end" font-size="6.5">0.0</text>
<text transform="translate(301.9 72.4) scale(1.02 1.15) skewX(0.05)" text-anchor="end" font-size="6.5">-0.5</text>
<text transform="translate(301.9 88.6) scale(1.02 1.15) skewX(0.05)" text-anchor="end" font-size="6.5">-1.0</text>
<text transform="translate(305.8 95.6) scale(1.02 1.0) skewX(0.05)" text-anchor="middle" font-size="6.7">0</text>
<text transform="translate(365.3 95.6) scale(1.02 1.0) skewX(0.05)" text-anchor="middle" font-size="6.7">5</text>
<text transform="translate(424.8 95.6) scale(1.02 1.0) skewX(0.05)" text-anchor="middle" font-size="6.7">10</text>
<text transform="translate(484.3 95.6) scale(1.02 1.0) skewX(0.05)" text-anchor="middle" font-size="6.7">15</text>
<text transform="translate(543.8 95.6) scale(1.02 1.0) skewX(0.05)" text-anchor="middle" font-size="6.7">20</text>
<text transform="translate(424.4 107.5) scale(1.04 1.04) skewX(0.05)" text-anchor="middle" font-size="7.6" class="tm">Time/ms</text>
<text transform="translate(288.2 45.9) rotate(-90) scale(0.99 0.95) skewX(0.05)" text-anchor="middle" font-size="8.0">Amplitude/ V</text>
<text transform="translate(414.4 133.5) scale(1.03 1.0) skewX(0.05)" text-anchor="middle" font-size="11.2" class="cp">(<tspan font-weight="bold">b</tspan>)</text>
<path d="M56.31 149.9V231.5M86.03 149.9V231.5M115.74 149.9V231.5M145.45 149.9V231.5M175.16 149.9V231.5M204.88 149.9V231.5M234.59 149.9V231.5M26.6 166.22H264.3M26.6 182.54H264.3M26.6 198.86H264.3M26.6 215.18H264.3" stroke="#efefef" stroke-width="0.7" fill="none"/>
<path d="M26.6 158.06H264.3M26.6 174.38H264.3M26.6 190.7H264.3M26.6 207.02H264.3M26.6 223.34H264.3" stroke="#f5f5f5" stroke-width="0.7" fill="none"/>
<path d="M27.8 194.46V202.73" stroke="#444" stroke-width="0.8"/><path d="M28.5 194.72V203.4" stroke="#333" stroke-width="1.4"/><path d="M29.7 195.83V203.71" stroke="#444" stroke-width="1.4"/><path d="M30.4 196.14V204.17" stroke="#222" stroke-width="0.8"/><path d="M31.4 193.84V204.61" stroke="#333" stroke-width="1.4"/><path d="M32.6 195.89V202.71" stroke="#333" stroke-width="1"/><path d="M33.6 194.83V203.68" stroke="#444" stroke-width="1.4"/><path d="M34.6 194.93V202.22" stroke="#000" stroke-width="1.2"/><path d="M35.5 195.22V203.36" stroke="#000" stroke-width="1"/><path d="M36.5 196.14V204.52" stroke="#666" stroke-width="1.2"/><path d="M37.2 195.83V202.45" stroke="#000" stroke-width="0.8"/><path d="M37.9 194.31V203.4" stroke="#222" stroke-width="1"/><path d="M38.6 196.09V203.58" stroke="#111" stroke-width="1.4"/><path d="M39.6 195.81V201.52" stroke="#222" stroke-width="1.2"/><path d="M40.5 195.04V203.06" stroke="#444" stroke-width="0.8"/><path d="M41.5 193.84V202.24" stroke="#222" stroke-width="1.2"/><path d="M42.5 194.91V203.51" stroke="#444" stroke-width="1"/><path d="M43.2 195.2V202.67" stroke="#444" stroke-width="1.2"/><path d="M44.4 196.15V203.86" stroke="#999" stroke-width="1.4"/><path d="M45.4 195.24V202.71" stroke="#222" stroke-width="1.2"/><path d="M46.4 195.99V204.37" stroke="#888" stroke-width="1.2"/><path d="M47.3 195.42V202.57" stroke="#000" stroke-width="0.8"/><path d="M48.3 194V202.19" stroke="#111" stroke-width="0.8"/><path d="M49.3 195.6V203.46" stroke="#000" stroke-width="0.8"/><path d="M50.2 193.43V203.49" stroke="#222" stroke-width="0.8"/><path d="M51.2 194.89V203.28" stroke="#333" stroke-width="1.2"/><path d="M52.4 194.37V201.49" stroke="#111" stroke-width="0.8"/><path d="M53.6 193.28V205.01" stroke="#111" stroke-width="0.8"/><path d="M54.8 194.04V203.28" stroke="#222" stroke-width="1"/><path d="M55.5 192.96V201.8" stroke="#000" stroke-width="1"/><path d="M56.7 196.31V204.12" stroke="#222" stroke-width="1"/><path d="M57.4 194.91V204.83" stroke="#222" stroke-width="1"/><path d="M59.6 196.15V202.18" stroke="#000" stroke-width="1"/><path d="M60.5 193.13V204.34" stroke="#000" stroke-width="1.4"/><path d="M61.7 195.41V202.35" stroke="#333" stroke-width="0.8"/><path d="M62.9 193.49V204.53" stroke="#000" stroke-width="0.8"/><path d="M63.6 192.95V204.52" stroke="#444" stroke-width="1.4"/><path d="M64.6 196.11V202.79" stroke="#222" stroke-width="1.2"/><path d="M65.6 195.21V201.82" stroke="#333" stroke-width="0.8"/><path d="M66.5 194.75V203.77" stroke="#000" stroke-width="1.4"/><path d="M67.2 194.62V203.96" stroke="#333" stroke-width="1.4"/><path d="M67.9 194.48V203.93" stroke="#333" stroke-width="1"/><path d="M69.1 196.26V202.56" stroke="#bbb" stroke-width="1.2"/><path d="M69.8 195.93V204.37" stroke="#444" stroke-width="1.4"/><path d="M70.5 194.39V201.74" stroke="#000" stroke-width="1.4"/><path d="M71.4 195V203.31" stroke="#333" stroke-width="1"/><path d="M72.1 193.38V201.45" stroke="#333" stroke-width="1.2"/><path d="M73.1 196.23V204.2" stroke="#111" stroke-width="0.8"/><path d="M73.8 196.15V202.56" stroke="#000" stroke-width="1"/><path d="M74.7 194.77V203.95" stroke="#999" stroke-width="1.2"/><path d="M75.9 194.41V204.94" stroke="#111" stroke-width="1.4"/><path d="M76.8 194.37V203.51" stroke="#333" stroke-width="1"/><path d="M78 195.84V201.71" stroke="#444" stroke-width="1.4"/><path d="M78.9 193.73V201.9" stroke="#111" stroke-width="1.2"/><path d="M80.1 194.31V205" stroke="#222" stroke-width="0.8"/><path d="M81.1 195.02V202" stroke="#222" stroke-width="1.4"/><path d="M82 193.92V203.96" stroke="#444" stroke-width="0.8"/><path d="M83.9 194.96V204.07" stroke="#aaa" stroke-width="1"/><path d="M84.8 193.64V201.62" stroke="#222" stroke-width="1"/><path d="M85.7 195.88V203.66" stroke="#000" stroke-width="1.2"/><path d="M86.6 195.26V202.93" stroke="#000" stroke-width="0.8"/><path d="M87.3 193.16V201.49" stroke="#222" stroke-width="0.8"/><path d="M88 194.83V203.16" stroke="#444" stroke-width="1.4"/><path d="M89.2 195.24V204.63" stroke="#333" stroke-width="0.8"/><path d="M90.4 193.18V201.72" stroke="#999" stroke-width="1.2"/><path d="M91.6 193.99V203.78" stroke="#222" stroke-width="0.8"/><path d="M92.6 194.48V201.78" stroke="#222" stroke-width="0.8"/><path d="M93.6 194.38V202.03" stroke="#111" stroke-width="1"/><path d="M94.6 194.07V201.82" stroke="#888" stroke-width="1.2"/><path d="M95.8 194.09V203.05" stroke="#111" stroke-width="0.8"/><path d="M96.5 193.72V203.37" stroke="#222" stroke-width="0.8"/><path d="M97.5 196.17V201.87" stroke="#222" stroke-width="1"/><path d="M100.4 193.4V201.77" stroke="#000" stroke-width="0.8"/><path d="M101.1 195.7V202.9" stroke="#888" stroke-width="1"/><path d="M108.2 193.19V202.51" stroke="#444" stroke-width="1.2"/><path d="M109.4 195.69V203.71" stroke="#111" stroke-width="1.4"/><path d="M111.5 193.62V202.14" stroke="#aaa" stroke-width="0.8"/><path d="M113.4 193.59V203.67" stroke="#222" stroke-width="1"/><path d="M115.8 195.16V203.93" stroke="#444" stroke-width="0.8"/><path d="M120.2 195.98V201.52" stroke="#111" stroke-width="1"/><path d="M121.4 193.91V203.35" stroke="#333" stroke-width="1.2"/><path d="M122.1 193.71V202.85" stroke="#000" stroke-width="1.2"/><path d="M124.3 194.27V202.19" stroke="#111" stroke-width="1.2"/><path d="M125.3 194.75V202.08" stroke="#111" stroke-width="1.4"/><path d="M126.2 195.87V203.61" stroke="#111" stroke-width="0.8"/><path d="M126.9 195.25V201.48" stroke="#111" stroke-width="1.4"/><path d="M127.6 196.27V204.93" stroke="#000" stroke-width="1.4"/><path d="M128.8 195.19V201.79" stroke="#bbb" stroke-width="0.8"/><path d="M129.8 193.6V203.08" stroke="#999" stroke-width="1.4"/><path d="M130.7 196.25V202.61" stroke="#999" stroke-width="0.8"/><path d="M131.4 192.97V203.55" stroke="#000" stroke-width="0.8"/><path d="M132.1 196.23V201.56" stroke="#222" stroke-width="1"/><path d="M133.3 194.68V202.66" stroke="#333" stroke-width="1.2"/><path d="M134.5 195.33V204.5" stroke="#333" stroke-width="1.2"/><path d="M135.7 193.77V204.08" stroke="#bbb" stroke-width="1.2"/><path d="M136.6 194.91V202.21" stroke="#aaa" stroke-width="1.2"/><path d="M139.5 193.87V201.44" stroke="#000" stroke-width="1.2"/><path d="M140.4 193.56V201.57" stroke="#000" stroke-width="1.4"/><path d="M143.3 194.96V204.9" stroke="#444" stroke-width="1.2"/><path d="M144 193.48V202.14" stroke="#111" stroke-width="1"/><path d="M144.7 195.35V202.13" stroke="#bbb" stroke-width="1.4"/><path d="M147.3 193.54V203.57" stroke="#666" stroke-width="1"/><path d="M148.3 194.73V202.18" stroke="#bbb" stroke-width="0.8"/><path d="M154.8 196.33V202.47" stroke="#999" stroke-width="1.2"/><path d="M159 193.43V201.59" stroke="#333" stroke-width="0.8"/><path d="M160 195.78V204.8" stroke="#bbb" stroke-width="1.4"/><path d="M165.2 193.09V202.04" stroke="#111" stroke-width="1.2"/><path d="M166.6 195.63V203.18" stroke="#333" stroke-width="1"/><path d="M167.6 194.81V204.72" stroke="#111" stroke-width="1"/><path d="M172 194.74V203.31" stroke="#222" stroke-width="1.2"/><path d="M173 195.05V202.69" stroke="#888" stroke-width="0.8"/><path d="M173.7 194.5V203.34" stroke="#000" stroke-width="0.8"/><path d="M175.8 192.98V202.7" stroke="#333" stroke-width="1"/><path d="M176.7 194.85V202.61" stroke="#444" stroke-width="0.8"/><path d="M177.9 195.49V204.33" stroke="#222" stroke-width="1.2"/><path d="M178.6 196.23V205.05" stroke="#444" stroke-width="1"/><path d="M180.7 193.45V203.4" stroke="#111" stroke-width="0.8"/><path d="M181.4 196.15V204.38" stroke="#444" stroke-width="1.4"/><path d="M182.4 195.76V202.04" stroke="#444" stroke-width="0.8"/><path d="M183.6 194.81V202.39" stroke="#222" stroke-width="1"/><path d="M184.6 196.23V203.16" stroke="#333" stroke-width="1.2"/><path d="M185.3 194.27V201.79" stroke="#222" stroke-width="0.8"/><path d="M186.5 195.06V203.26" stroke="#aaa" stroke-width="1"/><path d="M188.4 193.06V202.83" stroke="#111" stroke-width="0.8"/><path d="M189.4 194.99V202.4" stroke="#222" stroke-width="1.4"/><path d="M190.1 193.01V204.09" stroke="#000" stroke-width="0.8"/><path d="M191.5 192.92V203.07" stroke="#444" stroke-width="0.8"/><path d="M192.4 193.01V201.89" stroke="#888" stroke-width="1.4"/><path d="M193.6 195.86V201.56" stroke="#111" stroke-width="1.2"/><path d="M194.5 195.9V201.9" stroke="#111" stroke-width="1"/><path d="M195.7 194.84V202.03" stroke="#000" stroke-width="1"/><path d="M196.4 195.92V202.66" stroke="#666" stroke-width="1"/><path d="M198.9 194.45V204.67" stroke="#222" stroke-width="1.4"/><path d="M199.6 194.5V204.52" stroke="#333" stroke-width="1.4"/><path d="M200.6 194.49V204.44" stroke="#444" stroke-width="1.2"/><path d="M201.5 193.35V204.91" stroke="#111" stroke-width="1"/><path d="M202.2 196.16V203.63" stroke="#444" stroke-width="0.8"/><path d="M203.1 193.58V205.03" stroke="#444" stroke-width="1.2"/><path d="M203.8 194.33V202.57" stroke="#111" stroke-width="1.2"/><path d="M205 195.05V202.54" stroke="#444" stroke-width="1.2"/><path d="M206 192.94V202.36" stroke="#444" stroke-width="1"/><path d="M207 195.49V202.97" stroke="#111" stroke-width="1.4"/><path d="M208 193.3V205.01" stroke="#333" stroke-width="0.8"/><path d="M208.7 194.44V203.62" stroke="#111" stroke-width="1.4"/><path d="M209.9 196.1V203.26" stroke="#333" stroke-width="0.8"/><path d="M211.1 195V203.43" stroke="#222" stroke-width="1.2"/><path d="M212.3 193.18V203.9" stroke="#333" stroke-width="1"/><path d="M213.3 195.06V203.63" stroke="#000" stroke-width="1"/><path d="M214.3 195.67V201.47" stroke="#222" stroke-width="1.4"/><path d="M215.3 193.43V204.74" stroke="#444" stroke-width="0.8"/><path d="M216.5 195.87V202.49" stroke="#000" stroke-width="1"/><path d="M217.2 193.57V202.78" stroke="#111" stroke-width="1.4"/><path d="M218.2 195.65V203.71" stroke="#999" stroke-width="1.4"/><path d="M219.2 192.93V203.92" stroke="#333" stroke-width="1.2"/><path d="M226.3 194.55V204.7" stroke="#888" stroke-width="0.8"/><path d="M227.2 194.72V204.53" stroke="#999" stroke-width="1.2"/><path d="M229.3 195.32V204.69" stroke="#444" stroke-width="1.2"/><path d="M234.2 196V203.05" stroke="#bbb" stroke-width="1.4"/><path d="M237.4 195.08V202.19" stroke="#222" stroke-width="1.2"/><path d="M238.1 195.17V201.77" stroke="#333" stroke-width="1"/><path d="M239 193.91V202.16" stroke="#444" stroke-width="1"/><path d="M239.9 194.5V203.57" stroke="#111" stroke-width="1.2"/><path d="M241.1 196.08V203.34" stroke="#000" stroke-width="1"/><path d="M242.1 194.89V203.19" stroke="#444" stroke-width="1.4"/><path d="M243.1 194.19V204.17" stroke="#333" stroke-width="1.2"/><path d="M244 195.98V203.31" stroke="#aaa" stroke-width="1"/><path d="M245.2 196.21V202.65" stroke="#444" stroke-width="0.8"/><path d="M246.2 193.99V202.43" stroke="#333" stroke-width="1.2"/><path d="M246.9 194.4V204.19" stroke="#222" stroke-width="1"/><path d="M247.8 195.7V204.45" stroke="#222" stroke-width="1"/><path d="M250 194.98V202.09" stroke="#444" stroke-width="1.2"/><path d="M250.7 194.24V203.96" stroke="#111" stroke-width="0.8"/><path d="M251.4 195.95V202.79" stroke="#222" stroke-width="1.4"/><path d="M252.4 195.39V202.52" stroke="#666" stroke-width="1"/><path d="M253.1 194.84V202.33" stroke="#888" stroke-width="1.2"/><path d="M254 195.5V202.32" stroke="#222" stroke-width="0.8"/><path d="M255.6 195.57V203.05" stroke="#999" stroke-width="1"/><path d="M256.5 194.64V205.04" stroke="#333" stroke-width="1.4"/><path d="M258.9 194.46V203.53" stroke="#000" stroke-width="0.8"/><path d="M259.8 196.35V204.29" stroke="#111" stroke-width="1.2"/><path d="M260.8 194.41V204.12" stroke="#888" stroke-width="0.8"/><path d="M261.7 193.02V201.63" stroke="#222" stroke-width="1"/><path d="M262.4 194.02V203.59" stroke="#111" stroke-width="0.8"/>
<path d="M45.9 170.5V214.1" stroke="#777" stroke-width="1.2"/>
<path d="M55.2 171.3V210.2" stroke="#777" stroke-width="1.2"/>
<path d="M62.5 171.3V209.1" stroke="#777" stroke-width="1.2"/>
<path d="M71 169.8V210.6" stroke="#777" stroke-width="1.2"/>
<path d="M79.1 170.5V209.7" stroke="#777" stroke-width="1.2"/>
<path d="M88.7 172V210.2" stroke="#777" stroke-width="1.2"/>
<path d="M99.6 169.8V211.3" stroke="#777" stroke-width="1.2"/>
<path d="M163.1 177.2V211.2" stroke="#777" stroke-width="1.2"/>
<path d="M170.8 176.1V210.7" stroke="#777" stroke-width="1.2"/>
<path d="M176.9 179.7V211.2" stroke="#777" stroke-width="1.2"/>
<path d="M183.1 176.1V207.7" stroke="#777" stroke-width="1.2"/>
<path d="M188.7 176.1V208.5" stroke="#777" stroke-width="1.2"/>
<path d="M194.1 179.3V212" stroke="#777" stroke-width="1.2"/>
<path d="M199.8 179V209.8" stroke="#777" stroke-width="1.2"/>
<path d="M206.4 179V209.8" stroke="#777" stroke-width="1.2"/>
<path d="M212.7 176.1V209.4" stroke="#777" stroke-width="1.2"/>
<path d="M221.7 179.7V212" stroke="#777" stroke-width="1.2"/>
<path d="M235.6 174V207.7" stroke="#777" stroke-width="1.2"/>
<path d="M26.6 198.86H264.3" stroke="#222" stroke-width="0.9"/>
<path d="M56.31 149.9v1.4M56.31 231.5v-1.4M86.03 149.9v2.2M86.03 231.5v-2.2M115.74 149.9v1.4M115.74 231.5v-1.4M145.45 149.9v2.2M145.45 231.5v-2.2M175.16 149.9v1.4M175.16 231.5v-1.4M204.88 149.9v2.2M204.88 231.5v-2.2M234.59 149.9v1.4M234.59 231.5v-1.4M26.6 158.06h1.4M264.3 158.06h-1.4M26.6 166.22h2.2M264.3 166.22h-2.2M26.6 174.38h1.4M264.3 174.38h-1.4M26.6 182.54h2.2M264.3 182.54h-2.2M26.6 190.7h1.4M264.3 190.7h-1.4M26.6 198.86h2.2M264.3 198.86h-2.2M26.6 207.02h1.4M264.3 207.02h-1.4M26.6 215.18h2.2M264.3 215.18h-2.2M26.6 223.34h1.4M264.3 223.34h-1.4" stroke="#333" stroke-width="1" fill="none"/>
<rect x="26.6" y="149.9" width="237.7" height="81.6" fill="none" stroke="#5a5a5a" stroke-width="1.3"/>
<text transform="translate(23.1 152.1) scale(1.02 1.15) skewX(0.05)" text-anchor="end" font-size="6.5">1.5</text>
<text transform="translate(23.1 168.42) scale(1.02 1.15) skewX(0.05)" text-anchor="end" font-size="6.5">1.0</text>
<text transform="translate(23.1 184.74) scale(1.02 1.15) skewX(0.05)" text-anchor="end" font-size="6.5">0.5</text>
<text transform="translate(23.1 201.06) scale(1.02 1.15) skewX(0.05)" text-anchor="end" font-size="6.5">0.0</text>
<text transform="translate(23.1 217.38) scale(1.02 1.15) skewX(0.05)" text-anchor="end" font-size="6.5">-0.5</text>
<text transform="translate(23.1 233.7) scale(1.02 1.15) skewX(0.05)" text-anchor="end" font-size="6.5">-1.0</text>
<text transform="translate(27 240.3) scale(1.02 1.0) skewX(0.05)" text-anchor="middle" font-size="6.7">0</text>
<text transform="translate(86.43 240.3) scale(1.02 1.0) skewX(0.05)" text-anchor="middle" font-size="6.7">5</text>
<text transform="translate(145.85 240.3) scale(1.02 1.0) skewX(0.05)" text-anchor="middle" font-size="6.7">10</text>
<text transform="translate(205.28 240.3) scale(1.02 1.0) skewX(0.05)" text-anchor="middle" font-size="6.7">15</text>
<text transform="translate(264.7 240.3) scale(1.02 1.0) skewX(0.05)" text-anchor="middle" font-size="6.7">20</text>
<text transform="translate(145.45 252.6) scale(1.04 1.04) skewX(0.05)" text-anchor="middle" font-size="7.6" class="tm">Time/ms</text>
<text transform="translate(9.4 190.7) rotate(-90) scale(0.99 0.95) skewX(0.05)" text-anchor="middle" font-size="8.0">Amplitude/ V</text>
<text transform="translate(135.45 273.2) scale(1.03 1.0) skewX(0.05)" text-anchor="middle" font-size="11.2" class="cp">(<tspan font-weight="bold">c</tspan>)</text>
<path d="M335.38 149.4V231.4M365.25 149.4V231.4M395.12 149.4V231.4M425 149.4V231.4M454.88 149.4V231.4M484.75 149.4V231.4M514.62 149.4V231.4M305.5 165.8H544.5M305.5 182.2H544.5M305.5 198.6H544.5M305.5 215H544.5" stroke="#efefef" stroke-width="0.7" fill="none"/>
<path d="M305.5 157.6H544.5M305.5 174H544.5M305.5 190.4H544.5M305.5 206.8H544.5M305.5 223.2H544.5" stroke="#f5f5f5" stroke-width="0.7" fill="none"/>
<path d="M325.3 169.8V214.1" stroke="#707070" stroke-width="1.4"/>
<path d="M334.5 170.9V210.2" stroke="#707070" stroke-width="1.4"/>
<path d="M342.1 170.5V209.1" stroke="#707070" stroke-width="1.4"/>
<path d="M350.4 169.4V210.6" stroke="#707070" stroke-width="1.4"/>
<path d="M358.5 169.8V209.7" stroke="#707070" stroke-width="1.4"/>
<path d="M368.3 171.3V210.6" stroke="#707070" stroke-width="1.4"/>
<path d="M379.2 169.4V211.3" stroke="#707070" stroke-width="1.4"/>
<path d="M443.1 176.6V211.2" stroke="#707070" stroke-width="1.4"/>
<path d="M450.6 175.2V211.2" stroke="#707070" stroke-width="1.4"/>
<path d="M456.9 179.3V212" stroke="#707070" stroke-width="1.4"/>
<path d="M474.1 179V212" stroke="#707070" stroke-width="1.4"/>
<path d="M479.8 178.1V209.8" stroke="#707070" stroke-width="1.4"/>
<path d="M486.4 178.1V209.8" stroke="#707070" stroke-width="1.4"/>
<path d="M492.9 175.8V209.4" stroke="#707070" stroke-width="1.4"/>
<path d="M501.7 179.7V212" stroke="#707070" stroke-width="1.4"/>
<path d="M516 173.6V207.1" stroke="#707070" stroke-width="1.4"/>
<path d="M305.5 198.6H544.5" stroke="#3a3a3a" stroke-width="0.95"/>
<path d="M335.38 149.4v1.4M335.38 231.4v-1.4M365.25 149.4v2.2M365.25 231.4v-2.2M395.12 149.4v1.4M395.12 231.4v-1.4M425 149.4v2.2M425 231.4v-2.2M454.88 149.4v1.4M454.88 231.4v-1.4M484.75 149.4v2.2M484.75 231.4v-2.2M514.62 149.4v1.4M514.62 231.4v-1.4M305.5 157.6h1.4M544.5 157.6h-1.4M305.5 165.8h2.2M544.5 165.8h-2.2M305.5 174h1.4M544.5 174h-1.4M305.5 182.2h2.2M544.5 182.2h-2.2M305.5 190.4h1.4M544.5 190.4h-1.4M305.5 198.6h2.2M544.5 198.6h-2.2M305.5 206.8h1.4M544.5 206.8h-1.4M305.5 215h2.2M544.5 215h-2.2M305.5 223.2h1.4M544.5 223.2h-1.4" stroke="#333" stroke-width="1" fill="none"/>
<rect x="305.5" y="149.4" width="239" height="82" fill="none" stroke="#5a5a5a" stroke-width="1.3"/>
<text transform="translate(302 151.6) scale(1.02 1.15) skewX(0.05)" text-anchor="end" font-size="6.5">1.5</text>
<text transform="translate(302 168) scale(1.02 1.15) skewX(0.05)" text-anchor="end" font-size="6.5">1.0</text>
<text transform="translate(302 184.4) scale(1.02 1.15) skewX(0.05)" text-anchor="end" font-size="6.5">0.5</text>
<text transform="translate(302 200.8) scale(1.02 1.15) skewX(0.05)" text-anchor="end" font-size="6.5">0.0</text>
<text transform="translate(302 217.2) scale(1.02 1.15) skewX(0.05)" text-anchor="end" font-size="6.5">-0.5</text>
<text transform="translate(302 233.6) scale(1.02 1.15) skewX(0.05)" text-anchor="end" font-size="6.5">-1.0</text>
<text transform="translate(305.9 240.2) scale(1.02 1.0) skewX(0.05)" text-anchor="middle" font-size="6.7">0</text>
<text transform="translate(365.65 240.2) scale(1.02 1.0) skewX(0.05)" text-anchor="middle" font-size="6.7">5</text>
<text transform="translate(425.4 240.2) scale(1.02 1.0) skewX(0.05)" text-anchor="middle" font-size="6.7">10</text>
<text transform="translate(485.15 240.2) scale(1.02 1.0) skewX(0.05)" text-anchor="middle" font-size="6.7">15</text>
<text transform="translate(544.9 240.2) scale(1.02 1.0) skewX(0.05)" text-anchor="middle" font-size="6.7">20</text>
<text transform="translate(425 252.5) scale(1.04 1.04) skewX(0.05)" text-anchor="middle" font-size="7.6" class="tm">Time/ms</text>
<text transform="translate(288.3 190.4) rotate(-90) scale(0.99 0.95) skewX(0.05)" text-anchor="middle" font-size="8.0">Amplitude/ V</text>
<text transform="translate(415 273.2) scale(1.03 1.0) skewX(0.05)" text-anchor="middle" font-size="11.2" class="cp">(<tspan font-weight="bold">d</tspan>)</text>
</svg>
</body></html>
